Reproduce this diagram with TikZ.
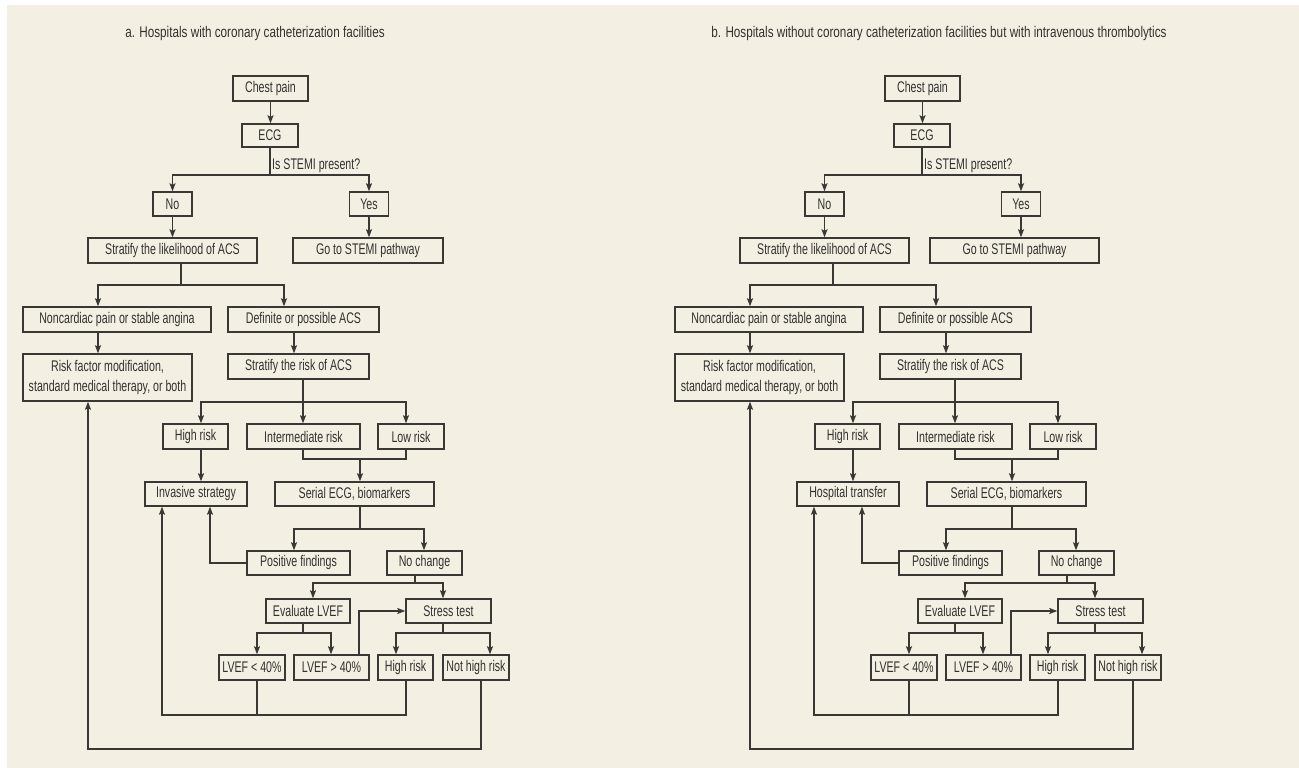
\documentclass[tikz,border=0pt]{standalone}
\usepackage{fontspec}
\setmainfont{Liberation Sans}[FakeStretch=0.69]
\newfontfamily\ttlfont{Liberation Sans}[FakeStretch=0.76]
\usetikzlibrary{arrows.meta,calc}
\definecolor{cream}{HTML}{F3EFE2}
\definecolor{linec}{HTML}{3A3835}
\definecolor{textc}{HTML}{333130}
\tikzset{
 box/.style={draw=linec, line width=1.4pt, inner sep=0pt, minimum height=25pt,
   font=\fontsize{15.4}{19.5}\selectfont, text=textc, align=center},
 conn/.style={draw=linec, line width=1.4pt},
 arr/.style={conn, -{Stealth[length=8pt,width=6pt,inset=1.5pt]}},
 ttl/.style={font=\ttlfont\fontsize{15.4}{17}\selectfont, text=textc, inner sep=0pt},
 lbl/.style={font=\fontsize{15.4}{17}\selectfont, text=textc, inner sep=2pt},
}
% #1 prefix, #2 shift, #3 title, #4 title x, #5 treatment, #6 stemi x, #7 stemi width, #8 loop x
\newcommand\flowpanel[8]{%
\begin{scope}[xshift=#2pt]
\node[ttl] (#1title) at (#4,34) {#3};
\node[box,minimum width=75pt] (#1cp) at (270.5,88.5) {Chest pain};
\node[box,minimum width=56pt,minimum height=23pt] (#1ecg) at (270,135.5) {ECG};
\node[box,minimum width=39pt,minimum height=24pt] (#1no) at (172.5,204) {No};
\node[box,minimum width=39pt,minimum height=24pt] (#1yes) at (369,204) {Yes};
\node[box,minimum width=169pt] (#1sl) at (172.5,250.5) {Stratify the likelihood of ACS};
\node[box,minimum width=#7pt] (#1stemi) at (#6,250.5) {Go to STEMI pathway};
\node[box,minimum width=188pt] (#1nc) at (117,319.5) {Noncardiac pain or stable angina};
\node[box,minimum width=151pt] (#1def) at (303.5,319.5) {Definite or possible ACS};
\node[box,minimum width=169pt,minimum height=47pt] (#1rf) at (107.5,377.5) {Risk factor modification,\\standard medical therapy, or both};
\node[box,minimum width=141pt] (#1sr) at (298.5,366.5) {Stratify the risk of ACS};
\node[box,minimum width=65pt] (#1hr) at (195.5,436.5) {High risk};
\node[box,minimum width=113pt] (#1ir) at (303.5,436.5) {Intermediate risk};
\node[box,minimum width=66pt] (#1lr) at (411,436.5) {Low risk};
\node[box,minimum width=102pt,minimum height=24pt] (#1inv) at (196,494) {#5};
\node[box,minimum width=159pt,minimum height=24pt] (#1ser) at (354.5,494) {Serial ECG, biomarkers};
\node[box,minimum width=103pt,minimum height=24pt] (#1pf) at (298.5,563) {Positive findings};
\node[box,minimum width=75pt,minimum height=24pt] (#1nch) at (424.5,563) {No change};
\node[box,minimum width=84pt,minimum height=24pt] (#1ev) at (308,611) {Evaluate LVEF};
\node[box,minimum width=85pt,minimum height=24pt] (#1st) at (448.5,611) {Stress test};
\node[box,minimum width=66pt] (#1l40) at (252,667.5) {LVEF < 40\%};
\node[box,minimum width=75pt] (#1g40) at (331.5,667.5) {LVEF > 40\%};
\node[box,minimum width=55pt] (#1hr2) at (405.5,667.5) {High risk};
\node[box,minimum width=66pt] (#1nhr) at (476,667.5) {Not high risk};
%
\coordinate (#1j1) at (270,175);
\coordinate (#1j2) at (181,285); \coordinate (#1j2l) at (98,285); \coordinate (#1j2r) at (284,285);
\coordinate (#1k1) at (294,340);
\coordinate (#1j3) at (303,402); \coordinate (#1j3l) at (201,402); \coordinate (#1j3r) at (406,402);
\coordinate (#1j4) at (360,459); \coordinate (#1j4l) at (303,459); \coordinate (#1j4r) at (406,459);
\coordinate (#1j5) at (360,529); \coordinate (#1j5l) at (294,529); \coordinate (#1j5r) at (424,529);
\coordinate (#1j6) at (210,563);
\coordinate (#1j7) at (415,583); \coordinate (#1j7l) at (313,583); \coordinate (#1j7r) at (443,583);
\coordinate (#1j8) at (303,633); \coordinate (#1j8l) at (257,633); \coordinate (#1j8r) at (331,633);
\coordinate (#1j9) at (359,611);
\coordinate (#1j10) at (443,633); \coordinate (#1j10l) at (396,633); \coordinate (#1j10r) at (490,633);
\coordinate (#1b1) at (162,715); \coordinate (#1b2) at (257,715); \coordinate (#1b3) at (406,715);
\coordinate (#1c1) at (481,749); \coordinate (#1c2) at (#8,749);
%
\node[lbl, anchor=south west] (#1q) at (#1j1) {Is STEMI present?};
\draw[arr] (#1cp.south) -- (#1cp.south |- #1ecg.north);
\draw[conn] (#1ecg.south) -- (#1j1);
\draw[arr] (#1j1) -| (#1no);
\draw[arr] (#1j1) -| (#1yes);
\draw[arr] (#1no) -- (#1sl);
\draw[arr] (#1yes.south) -- (#1yes.south |- #1stemi.north);
\draw[conn] (#1sl.south -| #1j2) -- (#1j2);
\draw[arr] (#1j2) -- (#1j2l) -- (#1j2l |- #1nc.north);
\draw[arr] (#1j2) -- (#1j2r) -- (#1j2r |- #1def.north);
\draw[arr] (#1nc.south -| #1j2l) -- (#1j2l |- #1rf.north);
\draw[arr] (#1def.south -| #1k1) -- (#1k1 |- #1sr.north);
\draw[conn] (#1sr.south -| #1j3) -- (#1j3);
\draw[arr] (#1j3) -- (#1j3 |- #1ir.north);
\draw[arr] (#1j3) -- (#1j3l) -- (#1j3l |- #1hr.north);
\draw[arr] (#1j3) -- (#1j3r) -- (#1j3r |- #1lr.north);
\draw[arr] (#1hr.south -| #1j3l) -- (#1j3l |- #1inv.north);
\draw[conn] (#1ir.south -| #1j4l) -- (#1j4l) -- (#1j4r) -- (#1lr.south -| #1j4r);
\draw[arr] (#1j4) -- (#1j4 |- #1ser.north);
\draw[conn] (#1ser.south -| #1j5) -- (#1j5);
\draw[arr] (#1j5) -- (#1j5l) -- (#1j5l |- #1pf.north);
\draw[arr] (#1j5) -- (#1j5r) -- (#1j5r |- #1nch.north);
\draw[arr] (#1pf.west) -- (#1j6) -- (#1j6 |- #1inv.south);
\draw[conn] (#1nch.south -| #1j7) -- (#1j7);
\draw[arr] (#1j7) -- (#1j7l) -- (#1j7l |- #1ev.north);
\draw[arr] (#1j7) -- (#1j7r) -- (#1j7r |- #1st.north);
\draw[conn] (#1ev.south -| #1j8) -- (#1j8);
\draw[arr] (#1j8) -- (#1j8l) -- (#1j8l |- #1l40.north);
\draw[arr] (#1j8) -- (#1j8r) -- (#1j8r |- #1g40.north);
\draw[arr] (#1g40.north -| #1j9) -- (#1j9) -- (#1st.west);
\draw[conn] (#1st.south -| #1j10) -- (#1j10);
\draw[arr] (#1j10) -- (#1j10l) -- (#1j10l |- #1hr2.north);
\draw[arr] (#1j10) -- (#1j10r) -- (#1j10r |- #1nhr.north);
\draw[conn] (#1l40.south -| #1b2) -- (#1b2);
\draw[arr] (#1hr2.south -| #1b3) -- (#1b3) -- (#1b1) -- (#1b1 |- #1inv.south);
\draw[arr] (#1nhr.south -| #1c1) -- (#1c1) -- (#1c2) -- (#1c2 |- #1rf.south);
\end{scope}}
\begin{document}
\begin{tikzpicture}[x=1pt,y=-1pt]
\useasboundingbox (0,0) rectangle (1299,768);
\fill[white] (0,0) rectangle (1299,768);
\fill[cream] (7,5) rectangle (1299,768);
\flowpanel{A-}{0}{a. Hospitals with coronary catheterization facilities}{255}{Invasive strategy}{368}{150}{88}
\flowpanel{B-}{652}{b. Hospitals without coronary catheterization facilities but with intravenous thrombolytics}{287}{Hospital transfer}{362.5}{169}{98}
\end{tikzpicture}
\end{document}
